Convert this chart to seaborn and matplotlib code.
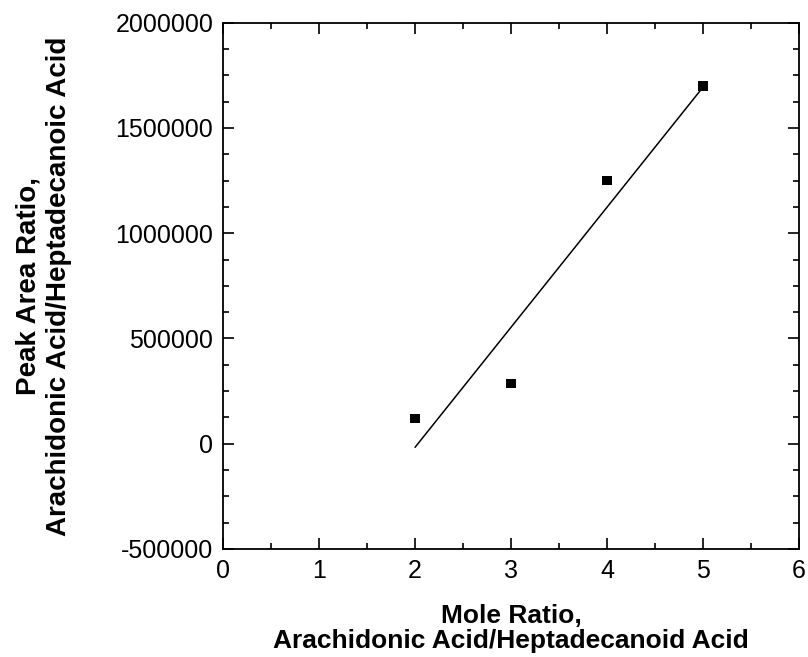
import matplotlib
matplotlib.use("Agg")
import matplotlib.pyplot as plt
import seaborn as sns
import numpy as np
import pandas as pd
from matplotlib.ticker import MultipleLocator, ScalarFormatter

mole_ratio = [2, 3, 4, 5]
peak_area_ratio = [120000, 285000, 1250000, 1700000]

x_label = "Mole Ratio,\nArachidonic Acid/Heptadecanoid Acid"
y_label = "Peak Area Ratio,\nArachidonic Acid/Heptadecanoic Acid"

sns.set_style("ticks")
plt.rcParams['font.family'] = ['Liberation Sans', 'DejaVu Sans']
plt.rcParams['axes.unicode_minus'] = False
for k in ['text.color', 'axes.labelcolor', 'xtick.color', 'ytick.color', 'axes.edgecolor']:
    plt.rcParams[k] = 'black'

df = pd.DataFrame({"x": mole_ratio, "y": peak_area_ratio})

fig = plt.figure(figsize=(8.08, 6.57), dpi=100)
ax = fig.add_axes([0.276, 0.1644, 0.713, 0.801])

sns.regplot(data=df, x="x", y="y", ax=ax, ci=None, marker="s", truncate=True,
            scatter_kws=dict(color="black", s=45, edgecolor="none", alpha=1),
            line_kws=dict(color="black", lw=1.1))

ax.set_xlim(0, 6)
ax.set_ylim(-500000, 2000000)
ax.xaxis.set_major_locator(MultipleLocator(1))
ax.xaxis.set_minor_locator(MultipleLocator(0.5))
ax.yaxis.set_major_locator(MultipleLocator(500000))
ax.yaxis.set_minor_locator(MultipleLocator(125000))
fmt = ScalarFormatter(useOffset=False)
fmt.set_scientific(False)
ax.yaxis.set_major_formatter(fmt)

ax.tick_params(which="both", direction="in", top=True, right=True, color="black", width=1.2)
ax.tick_params(which="major", length=8, labelsize=18)
ax.tick_params(axis="x", which="major", pad=7.5)
ax.tick_params(axis="y", which="major", pad=7)
ax.tick_params(which="minor", length=4.5)
for s in ax.spines.values():
    s.set_visible(True)
    s.set_linewidth(1.3)
    s.set_color("black")

ax.set_xlabel(x_label, fontsize=19, fontweight="bold", labelpad=15, linespacing=1.05)
ax.set_ylabel(y_label, fontsize=20, fontweight="bold", labelpad=31, linespacing=1.25)

fig.savefig("out.png", dpi=100)
